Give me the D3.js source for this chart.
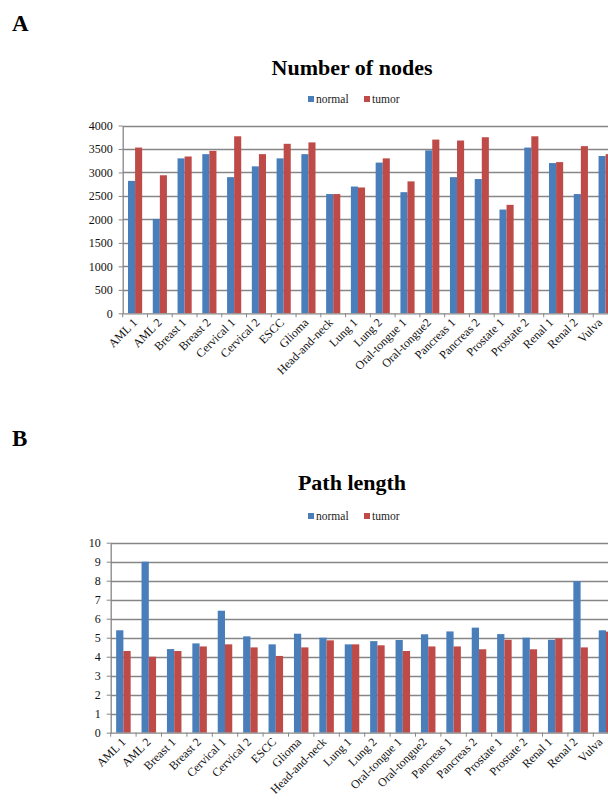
<!DOCTYPE html>
<html>
<head>
<meta charset="utf-8">
<script src="https://cdn.jsdelivr.net/npm/d3@7"></script>
<style>
  body { margin: 0; background: #fff; }
  svg  { display: block; font-family: "Liberation Serif", "Times New Roman", serif; }
</style>
</head>
<body>
<svg id="fig" width="608" height="808"></svg>
<script>
/* ── data ─────────────────────────────────────────────────── */
const categories = [
  'AML 1', 'AML 2', 'Breast 1', 'Breast 2', 'Cervical 1', 'Cervical 2', 'ESCC',
  'Glioma', 'Head-and-neck', 'Lung 1', 'Lung 2', 'Oral-tongue 1', 'Oral-tongue2',
  'Pancreas 1', 'Pancreas 2', 'Prostate 1', 'Prostate 2', 'Renal 1', 'Renal 2', 'Vulva'
];
const seriesNames = ['normal', 'tumor'];

const nodesNormal = [2820, 2010, 3300, 3390, 2900, 3130, 3300, 3390, 2540, 2700,
                     3210, 2580, 3470, 2900, 2860, 2210, 3530, 3200, 2540, 3350];
const nodesTumor  = [3530, 2940, 3340, 3460, 3770, 3390, 3610, 3640, 2540, 2680,
                     3300, 2810, 3700, 3680, 3750, 2310, 3770, 3220, 3560, 3390];
const nodesTicks  = [0, 500, 1000, 1500, 2000, 2500, 3000, 3500, 4000];

const pathNormal = [5.39, 9.0, 4.40, 4.70, 6.42, 5.07, 4.65, 5.21, 5.0, 4.65,
                    4.82, 4.88, 5.18, 5.33, 5.53, 5.19, 5.0, 4.89, 7.98, 5.39];
const pathTumor  = [4.30, 4.0, 4.30, 4.54, 4.65, 4.49, 4.04, 4.49, 4.86, 4.65,
                    4.60, 4.30, 4.54, 4.54, 4.39, 4.89, 4.39, 4.96, 4.49, 5.32];
const pathTicks  = [0, 1, 2, 3, 4, 5, 6, 7, 8, 9, 10];

/* ── look ─────────────────────────────────────────────────── */
const COLORS = ['#4a7ebb', '#be4b48'];
const GRID   = '#868686';

const svg = d3.select('#fig');

function drawPanel(o) {
  const g = svg.append('g');

  const x = d3.scaleBand().domain(categories).range([o.left, o.right]);
  const bw = x.bandwidth() / 3.5;              // Excel gap width 150%
  const y = d3.scaleLinear().domain([0, o.max]).range([o.bottom, o.top]);

  // panel letter + title
  g.append('text').attr('x', 12).attr('y', o.letterY)
    .attr('font-size', 23).attr('font-weight', 'bold').text(o.letter);
  g.append('text').attr('x', o.titleX).attr('y', o.titleY)
    .attr('text-anchor', 'middle').attr('font-size', 22).attr('font-weight', 'bold')
    .text(o.title);

  // legend
  const leg = g.append('g').attr('transform', `translate(${o.legendX},${o.legendY})`);
  seriesNames.forEach((name, i) => {
    const lx = i * 56;
    leg.append('rect').attr('x', lx).attr('y', -7).attr('width', 6).attr('height', 6)
      .attr('fill', COLORS[i]);
    leg.append('text').attr('x', lx + 8).attr('y', 0).attr('font-size', 11.5)
      .attr('fill', '#222').text(name);
  });

  // gridlines
  g.append('g').selectAll('line').data(o.ticks.slice(1)).join('line')
    .attr('x1', o.left).attr('x2', o.right)
    .attr('y1', d => Math.round(y(d)) + 0.5).attr('y2', d => Math.round(y(d)) + 0.5)
    .attr('stroke', GRID).attr('stroke-width', 1.3);

  // bars
  const series = [o.normal, o.tumor];
  series.forEach((vals, s) => {
    g.append('g').selectAll('rect').data(vals).join('rect')
      .attr('x', (d, i) => x(categories[i]) + (x.bandwidth() - 2 * bw) / 2 + s * bw)
      .attr('y', d => y(d))
      .attr('width', bw)
      .attr('height', d => y(0) - y(d))
      .attr('fill', COLORS[s]);
  });

  // y axis
  const yAxis = g.append('g').attr('transform', `translate(${o.left},0)`)
    .call(d3.axisLeft(y).tickValues(o.ticks).tickFormat(d3.format('d'))
      .tickSize(4).tickPadding(6).tickSizeOuter(0))
    .attr('font-family', null).attr('font-size', null);
  yAxis.select('.domain').attr('stroke', GRID).attr('stroke-width', 1.3);
  yAxis.selectAll('.tick line').attr('stroke', GRID);
  yAxis.selectAll('.tick text').attr('font-size', 12).attr('fill', '#111');

  // x axis line + boundary ticks
  g.append('line').attr('x1', o.left).attr('x2', o.right)
    .attr('y1', y(0) + 0.5).attr('y2', y(0) + 0.5)
    .attr('stroke', GRID).attr('stroke-width', 1.3);
  g.append('g').selectAll('line').data(categories.concat([null])).join('line')
    .attr('x1', (d, i) => x.step() * i + o.left).attr('x2', (d, i) => x.step() * i + o.left)
    .attr('y1', y(0)).attr('y2', y(0) + 4)
    .attr('stroke', GRID);

  // rotated category labels
  g.append('g').selectAll('text').data(categories).join('text')
    .attr('transform', (d, i) =>
      `translate(${x(d) + x.bandwidth() / 2 + 3 - i * 0.3},${y(0) + 10}) rotate(-45)`)
    .attr('text-anchor', 'end').attr('font-size', 12).attr('fill', '#111')
    .text(d => d);
}

drawPanel({
  letter: 'A', letterY: 31,
  title: 'Number of nodes', titleX: 352, titleY: 75,
  legendX: 308, legendY: 103,
  left: 122.7, right: 618, top: 125.5, bottom: 313.3,
  max: 4000, ticks: nodesTicks, normal: nodesNormal, tumor: nodesTumor
});

drawPanel({
  letter: 'B', letterY: 446,
  title: 'Path length', titleX: 352, titleY: 490,
  legendX: 308, legendY: 520,
  left: 110.7, right: 618.7, top: 542.7, bottom: 732.7,
  max: 10, ticks: pathTicks, normal: pathNormal, tumor: pathTumor
});
</script>
</body>
</html>
